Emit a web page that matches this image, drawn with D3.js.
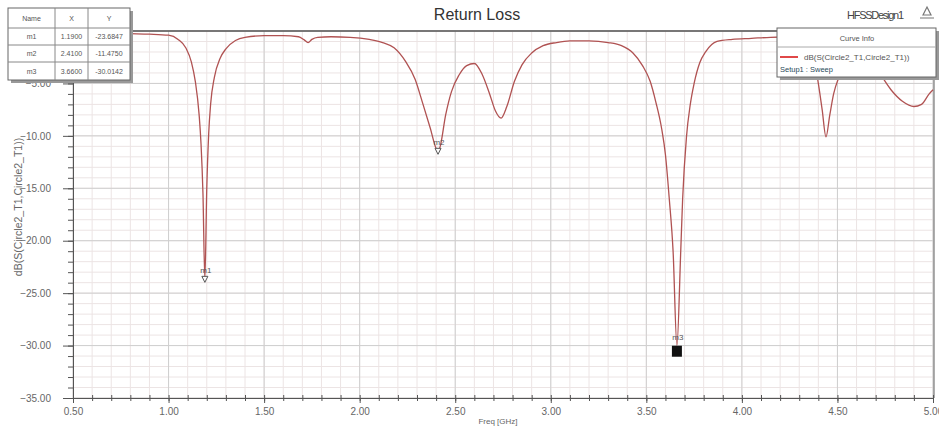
<!DOCTYPE html>
<html><head><meta charset="utf-8">
<script src="https://cdn.jsdelivr.net/npm/d3@7"></script>
<style>body{margin:0;background:#fff}svg{display:block}text{font-family:"Liberation Sans",Arial,sans-serif}</style>
</head><body><svg id="c" width="939" height="426"></svg>
<script>
const freq = [0.50,0.60,0.70,0.80,0.90,1.00,1.05,1.09,1.12,1.14,1.16,1.17,1.18,1.19,1.20,1.21,1.22,1.24,1.27,1.30,1.35,1.40,1.50,1.60,1.68,1.71,1.73,1.75,1.78,1.85,1.95,2.05,2.12,2.18,2.24,2.29,2.33,2.37,2.40,2.41,2.42,2.45,2.48,2.52,2.56,2.60,2.64,2.68,2.71,2.74,2.77,2.81,2.85,2.90,2.96,3.03,3.10,3.20,3.30,3.37,3.43,3.48,3.52,3.55,3.58,3.60,3.62,3.64,3.66,3.68,3.69,3.71,3.73,3.75,3.78,3.81,3.87,3.95,4.05,4.15,4.25,4.32,4.37,4.40,4.42,4.44,4.46,4.48,4.51,4.55,4.60,4.66,4.72,4.78,4.84,4.90,4.94,4.98,5.00];
const s11 = [-0.2,-0.2,-0.2,-0.25,-0.3,-0.4,-0.8,-1.6,-3.0,-4.8,-8.0,-10.8,-15.5,-23.68,-15.0,-9.8,-7.0,-4.4,-2.6,-1.7,-0.9,-0.6,-0.45,-0.45,-0.55,-0.85,-1.1,-0.8,-0.6,-0.55,-0.6,-0.8,-1.1,-1.6,-2.9,-4.6,-6.9,-9.3,-11.2,-11.475,-11.1,-8.0,-5.8,-4.2,-3.3,-3.1,-4.1,-6.0,-7.6,-8.3,-7.2,-4.8,-3.2,-2.1,-1.4,-1.1,-0.95,-0.95,-1.1,-1.4,-2.1,-3.3,-4.8,-6.8,-9.3,-11.8,-16.0,-21.0,-30.01,-21.0,-16.0,-10.1,-7.0,-5.0,-3.0,-2.0,-1.0,-0.8,-0.7,-0.6,-0.55,-0.7,-2.0,-5.0,-7.5,-10.1,-8.0,-6.0,-4.3,-2.8,-2.0,-2.4,-4.0,-5.6,-6.7,-7.2,-7.0,-6.0,-5.6];
const xMajor = [0.5,1.0,1.5,2.0,2.5,3.0,3.5,4.0,4.5,5.0];
const yMajor = [-35,-30,-25,-20,-15,-10,-5,0];
const markerNames = ["m1","m2","m3"];
const markerX = [1.19,2.41,3.66];
const markerY = [-23.6847,-11.4750,-30.0142];
const markerXLabels = ["1.1900","2.4100","3.6600"];
const markerYLabels = ["-23.6847","-11.4750","-30.0142"];
const title = "Return Loss";
const designName = "HFSSDesign1";
const yAxisTitle = "dB(S(Circle2_T1,Circle2_T1))";
const xAxisTitle = "Freq [GHz]";
const traceName = "dB(S(Circle2_T1,Circle2_T1))";
const setupName = "Setup1 : Sweep";

const svg = d3.select("#c");
const x = d3.scaleLinear().domain([0.5,5]).range([73,933]);
const y = d3.scaleLinear().domain([-35,0]).range([398,31]);

const xMinor = d3.range(5,51).map(d=>d/10);
const yMinor = d3.range(-35,1);

const g = svg.append("g");
g.selectAll(".gxm").data(xMinor).join("line").attr("x1",d=>x(d)).attr("x2",d=>x(d)).attr("y1",y(0)).attr("y2",y(-35)).attr("stroke","#ece4e4").attr("stroke-width",1);
g.selectAll(".gym").data(yMinor).join("line").attr("y1",d=>y(d)).attr("y2",d=>y(d)).attr("x1",x(0.5)).attr("x2",x(5)).attr("stroke","#ece4e4").attr("stroke-width",1);
g.selectAll(".gx").data(xMajor).join("line").attr("x1",d=>x(d)).attr("x2",d=>x(d)).attr("y1",y(0)).attr("y2",y(-35)).attr("stroke","#cfcfcf").attr("stroke-width",1);
g.selectAll(".gy").data(yMajor).join("line").attr("y1",d=>y(d)).attr("y2",d=>y(d)).attr("x1",x(0.5)).attr("x2",x(5)).attr("stroke","#cfcfcf").attr("stroke-width",1);

svg.append("line").attr("x1",x(0.5)).attr("x2",x(5)+2).attr("y1",y(0)).attr("y2",y(0)).attr("stroke","#555").attr("stroke-width",1.6);
svg.append("line").attr("x1",x(5)+1).attr("x2",x(5)+1).attr("y1",y(0)).attr("y2",y(-35)).attr("stroke","#777").attr("stroke-width",1.2);

const ax = svg.append("g").attr("transform",`translate(0,${y(-35)})`)
  .call(d3.axisBottom(x).tickValues(xMajor).tickSize(5).tickFormat(d3.format(".2f")));
const axm = svg.append("g").attr("transform",`translate(0,${y(-35)})`)
  .call(d3.axisBottom(x).tickValues(xMinor).tickSize(3).tickFormat(""));
const axm2 = svg.append("g").attr("transform",`translate(0,${y(-35)-3})`)
  .call(d3.axisBottom(x).tickValues(xMinor).tickSize(3).tickFormat(""));
axm2.select(".domain").remove();
const ay = svg.append("g").attr("transform",`translate(${x(0.5)},0)`)
  .call(d3.axisLeft(y).tickValues(yMajor).tickSize(10).tickFormat(d=>d===0?"":d3.format(".2f")(d)));
const aym = svg.append("g").attr("transform",`translate(${x(0.5)},0)`)
  .call(d3.axisLeft(y).tickValues(yMinor).tickSize(5).tickFormat(""));
[ax,axm,axm2,ay,aym].forEach(a=>{a.selectAll("path,line").attr("stroke","#555");a.selectAll("text").attr("fill","#666").style("font-size","10px");});
ax.selectAll("text").attr("dy","0.9em");
ay.selectAll("text").attr("dx","-9px");

const line = d3.line().x((d,i)=>x(freq[i])).y(d=>y(d)).curve(d3.curveMonotoneX);
svg.append("path").attr("d",line(s11)).attr("fill","none").attr("stroke","#b05252").attr("stroke-width",1.3);

markerNames.forEach((n,i)=>{
  const px=x(markerX[i]), py=y(markerY[i]);
  if(i<2){
    svg.append("path").attr("d",`M${px-3},${py-3}L${px+3},${py-3}L${px},${py+3}Z`).attr("fill","#fff").attr("stroke","#555").attr("stroke-width",1);
  } else {
    svg.append("rect").attr("x",px-5).attr("y",py).attr("width",10).attr("height",11).attr("fill","#111");
  }
  svg.append("text").attr("x",px+1).attr("y",py-6).attr("text-anchor","middle").attr("fill","#555").style("font-size","8px").text(n);
});

svg.append("text").attr("x",477).attr("y",20).attr("text-anchor","middle").attr("fill","#333").style("font-size","16px").text(title);
svg.append("text").attr("x",847).attr("y",19).attr("fill","#444").style("font-size","11px").attr("textLength",57).text(designName);
svg.append("path").attr("d","M923,15 L927,7 L931,15 Z M920,18 L934,18").attr("fill","none").attr("stroke","#777").attr("stroke-width",1.2);
svg.append("text").attr("transform","translate(22,207) rotate(-90)").attr("text-anchor","middle").attr("fill","#666").style("font-size","10.5px").text(yAxisTitle);
svg.append("text").attr("x",498).attr("y",424).attr("text-anchor","middle").attr("fill","#666").style("font-size","8px").text(xAxisTitle);

const tb = svg.append("g");
tb.append("rect").attr("x",11).attr("y",11).attr("width",122).attr("height",72).attr("fill","#999");
tb.append("rect").attr("x",8).attr("y",8).attr("width",122).attr("height",72).attr("fill","#fff").attr("stroke","#666");
const rowsY=[8,28,45,62,80];
const colsX=[8,55,88,130];
[28,45,62].forEach(v=>tb.append("line").attr("x1",8).attr("x2",130).attr("y1",v).attr("y2",v).attr("stroke","#888"));
[55,88].forEach(v=>tb.append("line").attr("x1",v).attr("x2",v).attr("y1",8).attr("y2",80).attr("stroke","#888"));
const hdr=["Name","X","Y"];
hdr.forEach((h,j)=>tb.append("text").attr("x",(colsX[j]+colsX[j+1])/2).attr("y",21).attr("text-anchor","middle").attr("fill","#555").style("font-size","7px").text(h));
markerNames.forEach((n,i)=>{
  const cy=(rowsY[i+1]+rowsY[i+2])/2+2.5;
  [n,markerXLabels[i],markerYLabels[i]].forEach((t,j)=>tb.append("text").attr("x",(colsX[j]+colsX[j+1])/2).attr("y",cy).attr("text-anchor","middle").attr("fill","#555").style("font-size","7px").text(t));
});

const lg = svg.append("g");
lg.append("rect").attr("x",780).attr("y",31).attr("width",160).attr("height",49).attr("fill","#999");
lg.append("rect").attr("x",777).attr("y",28).attr("width",159).attr("height",49).attr("fill","#fff").attr("stroke","#666");
lg.append("line").attr("x1",777).attr("x2",936).attr("y1",47).attr("y2",47).attr("stroke","#aaa");
lg.append("text").attr("x",857).attr("y",41).attr("text-anchor","middle").attr("fill","#555").style("font-size","7.5px").text("Curve Info");
lg.append("line").attr("x1",780).attr("x2",798).attr("y1",57).attr("y2",57).attr("stroke","#e04848").attr("stroke-width",2);
lg.append("text").attr("x",804).attr("y",60).attr("fill","#555").style("font-size","8px").text(traceName);
lg.append("text").attr("x",780).attr("y",72).attr("fill","#2a4a5a").style("font-size","7.5px").text(setupName);
</script></body></html>
